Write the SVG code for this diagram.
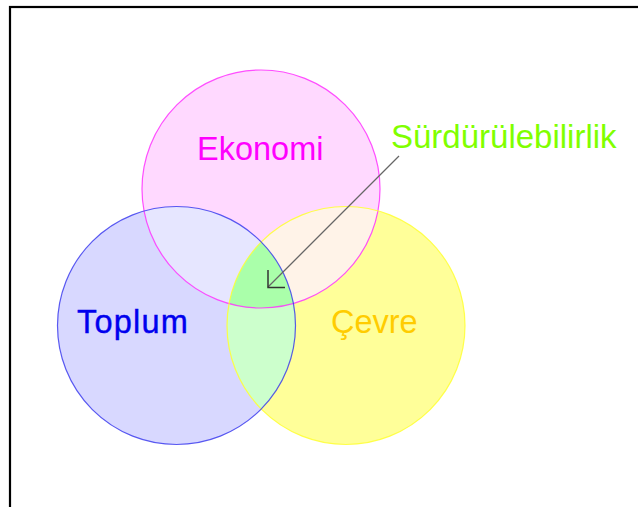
<svg xmlns="http://www.w3.org/2000/svg" width="638" height="507" viewBox="0 0 638 507">
  <style>
    .lbl { font-family: "Liberation Sans", Arial, sans-serif; font-size: 32.5px; }
    .edge { fill: none; stroke-width: 1.2; }
  </style>
  <defs>
    <clipPath id="clipE"><circle cx="261" cy="189" r="119"/></clipPath>
    <clipPath id="clipT"><circle cx="176.5" cy="325.5" r="119"/></clipPath>
  </defs>

  <rect width="638" height="507" fill="#ffffff"/>
  <!-- outer frame -->
  <rect x="10" y="7" width="650" height="520" fill="none" stroke="#000000" stroke-width="2.2"/>

  <!-- base fills -->
  <g id="ekonomi">
    <circle cx="261" cy="189" r="119" fill="#ffd9ff"/>
  </g>
  <g id="toplum">
    <circle cx="176.5" cy="325.5" r="119" fill="#d8d8ff"/>
  </g>
  <g id="cevre">
    <circle cx="346" cy="325.5" r="119" fill="#ffff99"/>
  </g>

  <!-- overlap regions -->
  <g id="overlaps">
    <circle cx="176.5" cy="325.5" r="119" fill="#e6e6ff" clip-path="url(#clipE)"/>
    <circle cx="346" cy="325.5" r="119" fill="#fff3e8" clip-path="url(#clipE)"/>
    <circle cx="346" cy="325.5" r="119" fill="#ccffcc" clip-path="url(#clipT)"/>
    <g clip-path="url(#clipE)">
      <circle cx="346" cy="325.5" r="119" fill="#aaffaa" clip-path="url(#clipT)"/>
    </g>
  </g>

  <!-- outlines -->
  <g id="outlines">
    <circle class="edge" cx="261" cy="189" r="119" stroke="#ff33ff" stroke-opacity="0.85"/>
    <circle class="edge" cx="346" cy="325.5" r="119" stroke="#ffff33" stroke-opacity="0.85"/>
    <circle class="edge" cx="176.5" cy="325.5" r="119" stroke="#3333ee" stroke-opacity="0.8"/>
  </g>

  <!-- labels -->
  <text class="lbl" x="197" y="160" fill="#ff00ff">Ekonomi</text>
  <text class="lbl" x="77" y="333" fill="#0000ee" stroke="#0000ee" stroke-width="0.4" letter-spacing="1.2">Toplum</text>
  <text class="lbl" x="331" y="333" fill="#ffcc00">Çevre</text>
  <g id="surdurulebilirlik">
    <text class="lbl" x="391" y="148" fill="#80ff00" style="font-size:33px">Sürdürülebilirlik</text>
  </g>

  <!-- pointer from the label into the common region -->
  <g id="connectors">
    <line x1="399" y1="156" x2="268" y2="287" stroke="#666666" stroke-width="1.3"/>
    <polyline points="268,270 268,287.5 285,287.5" fill="none" stroke="#333333" stroke-width="1.5"/>
  </g>
</svg>
